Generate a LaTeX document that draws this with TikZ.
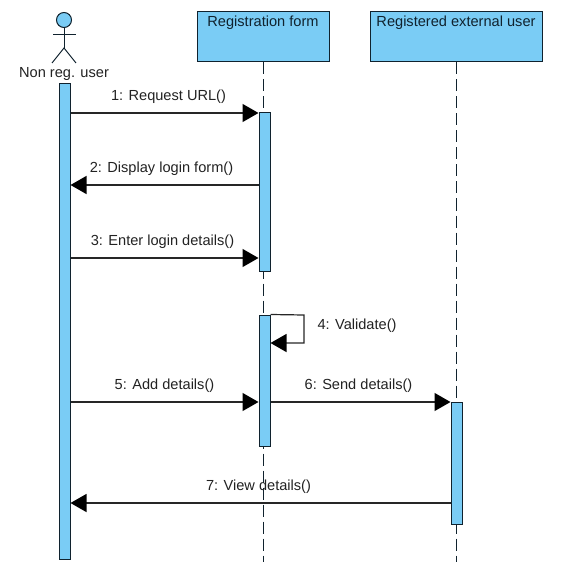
\documentclass[tikz,border=0pt]{standalone}
\usepackage{fontspec}
\setmainfont{Liberation Sans}
\usetikzlibrary{arrows.meta}

\definecolor{boxblue}{HTML}{7ACCF5}
\definecolor{boxline}{HTML}{10222E}
\definecolor{labelgrey}{HTML}{222222}

\tikzset{
	msg/.style = {draw = black!85, line width = 1.2pt, -{Triangle[length = 16pt, width = 18pt, color = black]}},
	lifeline/.style = {draw = boxline, line width = 1pt, dash pattern = on 12pt off 5pt},
	objbox/.style = {draw = boxline, line width = 1pt, fill = boxblue, inner sep = 0pt, minimum height = 50pt},
	bar/.style = {draw = boxline, line width = 1pt, fill = boxblue, inner sep = 0pt, minimum width = 11pt},
	lbl/.style = {text = labelgrey, font = \fontsize{14.6pt}{16pt}\selectfont, inner sep = 0pt}
}

\begin{document}
\begin{tikzpicture}[x = 1pt, y = -1pt]

\useasboundingbox (0, 0) rectangle (561, 577);

% Object boxes

\node [objbox, minimum width = 132pt] (formbox) at (263, 37) {};
\node [objbox, minimum width = 172pt] (extbox) at (456, 37) {};
\node [lbl, text = boxline] (formtext) at (263, 23) {Registration form};
\node [lbl, text = boxline] (exttext) at (456, 23) {Registered external user};

% Lifelines

\coordinate (formend) at (263, 562);
\coordinate (extend) at (456, 562);
\draw [lifeline] (formbox.south) -- (formend);
\draw [lifeline] (extbox.south) -- (extend);

% Actor

\node [circle, draw = boxline, line width = 1pt, fill = boxblue, minimum size = 15pt, inner sep = 0pt] (head) at (64, 20) {};
\coordinate (hip) at (64, 48);
\coordinate (armL) at (53, 35);
\coordinate (armR) at (76, 35);
\coordinate (legL) at (52, 63);
\coordinate (legR) at (76, 63);
\draw [boxline, line width = 1pt] (head.south) -- (hip);
\draw [boxline, line width = 1pt] (armL) -- (armR);
\draw [boxline, line width = 1pt] (legL) -- (hip) -- (legR);
\node [lbl] (actor) at (64, 73.5) {Non reg. user};

% Activation bars

\node [bar, minimum height = 475pt] (userbar) at (64.5, 321.5) {};
\node [bar, minimum height = 158pt] (formbarA) at (264.5, 192) {};
\node [bar, minimum height = 131pt] (formbarB) at (264.5, 380.5) {};
\node [bar, minimum height = 122pt] (extbar) at (456.5, 463) {};

% Message heights

\coordinate (y1) at (0, 113);
\coordinate (y2) at (0, 185);
\coordinate (y3) at (0, 258);
\coordinate (y4) at (0, 343);
\coordinate (y5) at (0, 402);
\coordinate (y7) at (0, 503);
\coordinate (loopA) at (304, 315);
\coordinate (loopB) at (304, 343);

% Messages

\draw [msg] (userbar.east |- y1) -- node [lbl, above = 9pt, xshift = 4pt] (m1) {1: Request URL()} (formbarA.west |- y1);
\draw [msg] (formbarA.west |- y2) -- node [lbl, above = 9pt, xshift = -3pt] (m2) {2: Display login form()} (userbar.east |- y2);
\draw [msg] (userbar.east |- y3) -- node [lbl, above = 9pt, xshift = -2pt] (m3) {3: Enter login details()} (formbarA.west |- y3);
\draw [msg] (formbarB.north east) -- (loopA) -- (loopB) -- (formbarB.east |- y4);
\node [lbl] (m4) at (357, 326) {4: Validate()};
\draw [msg] (userbar.east |- y5) -- node [lbl, above = 9pt] (m5) {5: Add details()} (formbarB.west |- y5);
\draw [msg] (formbarB.east |- y5) -- node [lbl, above = 9pt, xshift = -2pt] (m6) {6: Send details()} (extbar.west |- y5);
\draw [msg] (extbar.west |- y7) -- node [lbl, above = 9pt, xshift = -2pt] (m7) {7: View details()} (userbar.east |- y7);

\end{tikzpicture}
\end{document}
